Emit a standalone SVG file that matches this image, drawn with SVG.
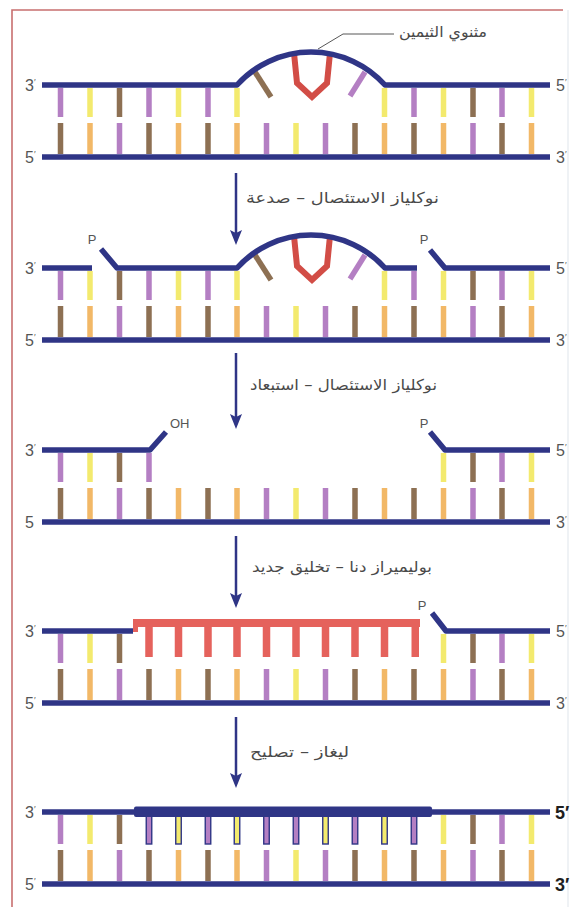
<svg xmlns="http://www.w3.org/2000/svg" width="576" height="907" viewBox="0 0 576 907">
  <defs>
    <style>
      .strand{fill:none;stroke:#2f3586;stroke-width:5.5;stroke-linejoin:round;stroke-linecap:butt}
      .pu{fill:#b47fc3}
      .ye{fill:#f3ea6e}
      .br{fill:#8d7053}
      .or{fill:#f2b867}
      .new{stroke:#2f3586;stroke-width:1.4}
      .tilt{stroke-width:5.5;stroke-linecap:butt}
      .dimer{fill:none;stroke:#d24d46;stroke-width:6;stroke-linejoin:miter}
      .end{font-family:"Liberation Sans",Arial,sans-serif;font-size:16px;fill:#555}
      .endb{font-family:"Liberation Sans",Arial,sans-serif;font-size:18px;font-weight:bold;fill:#1e1e1e}
      .tag{font-family:"Liberation Sans",Arial,sans-serif;font-size:13px;fill:#555}
      .ar{font-family:"DejaVu Sans","Noto Sans",sans-serif;font-size:15px;fill:#4a4a4a}
      .arrow{fill:none;stroke:#2f3586;stroke-width:2.5}
      .red{fill:#e5625c}
    </style>
    <marker id="head" markerUnits="userSpaceOnUse" markerWidth="16" markerHeight="13" refX="7" refY="6" orient="auto">
      <path d="M0,0 L15,6 L0,12 L3,6 Z" fill="#2f3586"/>
    </marker>
  </defs>

  <rect width="576" height="907" fill="#ffffff"/>
  <!-- page frame -->
  <path d="M12,907 V10 H563" fill="none" stroke="#c86f6f" stroke-width="1.6"/>
  <line x1="568" y1="10" x2="568" y2="907" stroke="#e4e9ee" stroke-width="1.2"/>

  <!-- state 1: thymine dimer in the upper strand -->
  <g id="state1">
    <g>
      <rect class="pu" x="57.75" y="88" width="5.5" height="29"/>
      <rect class="ye" x="87.25" y="88" width="5.5" height="29"/>
      <rect class="br" x="116.75" y="88" width="5.5" height="29"/>
      <rect class="pu" x="146.25" y="88" width="5.5" height="29"/>
      <rect class="ye" x="175.75" y="88" width="5.5" height="29"/>
      <rect class="pu" x="205.25" y="88" width="5.5" height="29"/>
      <rect class="ye" x="234.25" y="88" width="5.5" height="29"/>
      <rect class="ye" x="381.75" y="88" width="5.5" height="29"/>
      <rect class="pu" x="411.25" y="88" width="5.5" height="29"/>
      <rect class="ye" x="440.75" y="88" width="5.5" height="29"/>
      <rect class="br" x="470.25" y="88" width="5.5" height="29"/>
      <rect class="pu" x="499.25" y="88" width="5.5" height="29"/>
      <rect class="ye" x="528.75" y="88" width="5.5" height="29"/>
      <line class="tilt" x1="255" y1="72" x2="271" y2="97" stroke="#8d7053"/>
      <line class="tilt" x1="365" y1="72" x2="350" y2="96" stroke="#b47fc3"/>
    </g>
    <g>
      <rect class="br" x="57.75" y="123" width="5.5" height="31"/>
      <rect class="or" x="87.25" y="123" width="5.5" height="31"/>
      <rect class="pu" x="116.75" y="123" width="5.5" height="31"/>
      <rect class="br" x="146.25" y="123" width="5.5" height="31"/>
      <rect class="or" x="175.75" y="123" width="5.5" height="31"/>
      <rect class="br" x="205.25" y="123" width="5.5" height="31"/>
      <rect class="or" x="234.25" y="123" width="5.5" height="31"/>
      <rect class="pu" x="263.75" y="123" width="5.5" height="31"/>
      <rect class="ye" x="293.25" y="123" width="5.5" height="31"/>
      <rect class="pu" x="322.75" y="123" width="5.5" height="31"/>
      <rect class="br" x="352.25" y="123" width="5.5" height="31"/>
      <rect class="or" x="381.75" y="123" width="5.5" height="31"/>
      <rect class="br" x="411.25" y="123" width="5.5" height="31"/>
      <rect class="or" x="440.75" y="123" width="5.5" height="31"/>
      <rect class="pu" x="470.25" y="123" width="5.5" height="31"/>
      <rect class="br" x="499.25" y="123" width="5.5" height="31"/>
      <rect class="or" x="528.75" y="123" width="5.5" height="31"/>
    </g>
    <polyline class="dimer" points="294,53 297,83 312,97 327,83 330,53"/>
    <path class="strand" d="M42,85 H237 A99.5,99.5 0 0 1 385,85 H550"/>
    <path class="strand" d="M42,157 H550"/>
    <text class="end" x="25" y="91">3<tspan font-size="9" dy="-6">′</tspan></text>
    <text class="end" x="25" y="163">5<tspan font-size="9" dy="-6">′</tspan></text>
    <text class="end" x="556" y="91">5<tspan font-size="9" dy="-6">′</tspan></text>
    <text class="end" x="556" y="163">3<tspan font-size="9" dy="-6">′</tspan></text>
    <polyline points="318,49 343,34 394,34" fill="none" stroke="#444" stroke-width="0.9"/>
    <text class="ar" x="399" y="37" textLength="88" lengthAdjust="spacingAndGlyphs">مثنوي الثيمين</text>
  </g>

  <!-- state 2: nicks on both sides of the lesion -->
  <g id="state2">
    <g>
      <rect class="pu" x="57.75" y="271" width="5.5" height="29"/>
      <rect class="ye" x="87.25" y="271" width="5.5" height="29"/>
      <rect class="br" x="116.75" y="271" width="5.5" height="29"/>
      <rect class="pu" x="146.25" y="271" width="5.5" height="29"/>
      <rect class="ye" x="175.75" y="271" width="5.5" height="29"/>
      <rect class="pu" x="205.25" y="271" width="5.5" height="29"/>
      <rect class="ye" x="234.25" y="271" width="5.5" height="29"/>
      <rect class="ye" x="381.75" y="271" width="5.5" height="29"/>
      <rect class="pu" x="411.25" y="271" width="5.5" height="29"/>
      <rect class="ye" x="440.75" y="271" width="5.5" height="29"/>
      <rect class="br" x="470.25" y="271" width="5.5" height="29"/>
      <rect class="pu" x="499.25" y="271" width="5.5" height="29"/>
      <rect class="ye" x="528.75" y="271" width="5.5" height="29"/>
      <line class="tilt" x1="255" y1="255" x2="271" y2="280" stroke="#8d7053"/>
      <line class="tilt" x1="365" y1="255" x2="350" y2="279" stroke="#b47fc3"/>
    </g>
    <g>
      <rect class="br" x="57.75" y="306" width="5.5" height="31"/>
      <rect class="or" x="87.25" y="306" width="5.5" height="31"/>
      <rect class="pu" x="116.75" y="306" width="5.5" height="31"/>
      <rect class="br" x="146.25" y="306" width="5.5" height="31"/>
      <rect class="or" x="175.75" y="306" width="5.5" height="31"/>
      <rect class="br" x="205.25" y="306" width="5.5" height="31"/>
      <rect class="or" x="234.25" y="306" width="5.5" height="31"/>
      <rect class="pu" x="263.75" y="306" width="5.5" height="31"/>
      <rect class="ye" x="293.25" y="306" width="5.5" height="31"/>
      <rect class="pu" x="322.75" y="306" width="5.5" height="31"/>
      <rect class="br" x="352.25" y="306" width="5.5" height="31"/>
      <rect class="or" x="381.75" y="306" width="5.5" height="31"/>
      <rect class="br" x="411.25" y="306" width="5.5" height="31"/>
      <rect class="or" x="440.75" y="306" width="5.5" height="31"/>
      <rect class="pu" x="470.25" y="306" width="5.5" height="31"/>
      <rect class="br" x="499.25" y="306" width="5.5" height="31"/>
      <rect class="or" x="528.75" y="306" width="5.5" height="31"/>
    </g>
    <polyline class="dimer" points="294,236 297,266 312,280 327,266 330,236"/>
    <path class="strand" d="M42,268 H92"/>
    <path class="strand" d="M101,249 L117,268 H237 A99.5,99.5 0 0 1 385,268 H417"/>
    <path class="strand" d="M430,250 L445,268 H550"/>
    <path class="strand" d="M42,340 H550"/>
    <text class="tag" x="92" y="244" text-anchor="middle">P</text>
    <text class="tag" x="424" y="244" text-anchor="middle">P</text>
    <text class="end" x="25" y="274">3<tspan font-size="9" dy="-6">′</tspan></text>
    <text class="end" x="25" y="346">5<tspan font-size="9" dy="-6">′</tspan></text>
    <text class="end" x="556" y="274">5<tspan font-size="9" dy="-6">′</tspan></text>
    <text class="end" x="556" y="346">3<tspan font-size="9" dy="-6">′</tspan></text>
  </g>

  <!-- state 3: damaged fragment removed, gap left -->
  <g id="state3">
    <g>
      <rect class="pu" x="57.75" y="453" width="5.5" height="29"/>
      <rect class="ye" x="87.25" y="453" width="5.5" height="29"/>
      <rect class="br" x="116.75" y="453" width="5.5" height="29"/>
      <rect class="pu" x="146.25" y="453" width="5.5" height="29"/>
      <rect class="ye" x="440.75" y="453" width="5.5" height="29"/>
      <rect class="br" x="470.25" y="453" width="5.5" height="29"/>
      <rect class="pu" x="499.25" y="453" width="5.5" height="29"/>
      <rect class="ye" x="528.75" y="453" width="5.5" height="29"/>
    </g>
    <g>
      <rect class="br" x="57.75" y="488" width="5.5" height="31"/>
      <rect class="or" x="87.25" y="488" width="5.5" height="31"/>
      <rect class="pu" x="116.75" y="488" width="5.5" height="31"/>
      <rect class="br" x="146.25" y="488" width="5.5" height="31"/>
      <rect class="or" x="175.75" y="488" width="5.5" height="31"/>
      <rect class="br" x="205.25" y="488" width="5.5" height="31"/>
      <rect class="or" x="234.25" y="488" width="5.5" height="31"/>
      <rect class="pu" x="263.75" y="488" width="5.5" height="31"/>
      <rect class="ye" x="293.25" y="488" width="5.5" height="31"/>
      <rect class="pu" x="322.75" y="488" width="5.5" height="31"/>
      <rect class="br" x="352.25" y="488" width="5.5" height="31"/>
      <rect class="or" x="381.75" y="488" width="5.5" height="31"/>
      <rect class="br" x="411.25" y="488" width="5.5" height="31"/>
      <rect class="or" x="440.75" y="488" width="5.5" height="31"/>
      <rect class="pu" x="470.25" y="488" width="5.5" height="31"/>
      <rect class="br" x="499.25" y="488" width="5.5" height="31"/>
      <rect class="or" x="528.75" y="488" width="5.5" height="31"/>
    </g>
    <path class="strand" d="M42,450 H150 L166,432"/>
    <path class="strand" d="M430,432 L445,450 H550"/>
    <path class="strand" d="M42,522 H550"/>
    <text class="tag" x="170" y="428">OH</text>
    <text class="tag" x="424" y="428" text-anchor="middle">P</text>
    <text class="end" x="25" y="456">3<tspan font-size="9" dy="-6">′</tspan></text>
    <text class="end" x="25" y="528">5</text>
    <text class="end" x="556" y="456">5<tspan font-size="9" dy="-6">′</tspan></text>
    <text class="end" x="556" y="528">3<tspan font-size="9" dy="-6">′</tspan></text>
  </g>

  <!-- state 4: new stretch synthesised by the polymerase -->
  <g id="state4">
    <g>
      <rect class="pu" x="57.75" y="634" width="5.5" height="29"/>
      <rect class="ye" x="87.25" y="634" width="5.5" height="29"/>
      <rect class="br" x="116.75" y="634" width="5.5" height="29"/>
      <rect class="ye" x="440.75" y="634" width="5.5" height="29"/>
      <rect class="br" x="470.25" y="634" width="5.5" height="29"/>
      <rect class="pu" x="499.25" y="634" width="5.5" height="29"/>
      <rect class="ye" x="528.75" y="634" width="5.5" height="29"/>
    </g>
    <g>
      <rect class="br" x="57.75" y="669" width="5.5" height="31"/>
      <rect class="or" x="87.25" y="669" width="5.5" height="31"/>
      <rect class="pu" x="116.75" y="669" width="5.5" height="31"/>
      <rect class="br" x="146.25" y="669" width="5.5" height="31"/>
      <rect class="or" x="175.75" y="669" width="5.5" height="31"/>
      <rect class="br" x="205.25" y="669" width="5.5" height="31"/>
      <rect class="or" x="234.25" y="669" width="5.5" height="31"/>
      <rect class="pu" x="263.75" y="669" width="5.5" height="31"/>
      <rect class="ye" x="293.25" y="669" width="5.5" height="31"/>
      <rect class="pu" x="322.75" y="669" width="5.5" height="31"/>
      <rect class="br" x="352.25" y="669" width="5.5" height="31"/>
      <rect class="or" x="381.75" y="669" width="5.5" height="31"/>
      <rect class="br" x="411.25" y="669" width="5.5" height="31"/>
      <rect class="or" x="440.75" y="669" width="5.5" height="31"/>
      <rect class="pu" x="470.25" y="669" width="5.5" height="31"/>
      <rect class="br" x="499.25" y="669" width="5.5" height="31"/>
      <rect class="or" x="528.75" y="669" width="5.5" height="31"/>
    </g>
    <g>
      <rect class="red" x="133" y="619" width="287" height="8"/>
      <rect class="red" x="133" y="619" width="5" height="13"/>
      <rect class="red" x="145.25" y="626" width="7.5" height="31"/>
      <rect class="red" x="174.75" y="626" width="7.5" height="31"/>
      <rect class="red" x="204.25" y="626" width="7.5" height="31"/>
      <rect class="red" x="233.25" y="626" width="7.5" height="31"/>
      <rect class="red" x="262.75" y="626" width="7.5" height="31"/>
      <rect class="red" x="292.25" y="626" width="7.5" height="31"/>
      <rect class="red" x="321.75" y="626" width="7.5" height="31"/>
      <rect class="red" x="351.25" y="626" width="7.5" height="31"/>
      <rect class="red" x="380.75" y="626" width="7.5" height="31"/>
      <rect class="red" x="411.5" y="626" width="7.5" height="31"/>
    </g>
    <path class="strand" d="M42,631 H133"/>
    <path class="strand" d="M432,613 L446,631 H550"/>
    <path class="strand" d="M42,703 H550"/>
    <text class="tag" x="422" y="610" text-anchor="middle">P</text>
    <text class="end" x="25" y="637">3<tspan font-size="9" dy="-6">′</tspan></text>
    <text class="end" x="25" y="709">5<tspan font-size="9" dy="-6">′</tspan></text>
    <text class="end" x="556" y="637">5<tspan font-size="9" dy="-6">′</tspan></text>
    <text class="end" x="556" y="709">3<tspan font-size="9" dy="-6">′</tspan></text>
  </g>

  <!-- state 5: nick sealed by ligase, duplex restored -->
  <g id="state5">
    <g>
      <rect class="pu" x="57.75" y="815" width="5.5" height="29"/>
      <rect class="ye" x="87.25" y="815" width="5.5" height="29"/>
      <rect class="br" x="116.75" y="815" width="5.5" height="29"/>
      <rect class="pu new" x="146.25" y="816" width="5.5" height="28"/>
      <rect class="ye new" x="175.75" y="816" width="5.5" height="28"/>
      <rect class="pu new" x="205.25" y="816" width="5.5" height="28"/>
      <rect class="ye new" x="234.25" y="816" width="5.5" height="28"/>
      <rect class="pu new" x="263.75" y="816" width="5.5" height="28"/>
      <rect class="pu new" x="293.25" y="816" width="5.5" height="28"/>
      <rect class="ye new" x="322.75" y="816" width="5.5" height="28"/>
      <rect class="pu new" x="352.25" y="816" width="5.5" height="28"/>
      <rect class="ye new" x="381.75" y="816" width="5.5" height="28"/>
      <rect class="pu new" x="411.25" y="816" width="5.5" height="28"/>
      <rect class="ye" x="440.75" y="815" width="5.5" height="29"/>
      <rect class="br" x="470.25" y="815" width="5.5" height="29"/>
      <rect class="pu" x="499.25" y="815" width="5.5" height="29"/>
      <rect class="ye" x="528.75" y="815" width="5.5" height="29"/>
    </g>
    <g>
      <rect class="br" x="57.75" y="850" width="5.5" height="31"/>
      <rect class="or" x="87.25" y="850" width="5.5" height="31"/>
      <rect class="pu" x="116.75" y="850" width="5.5" height="31"/>
      <rect class="br" x="146.25" y="850" width="5.5" height="31"/>
      <rect class="or" x="175.75" y="850" width="5.5" height="31"/>
      <rect class="br" x="205.25" y="850" width="5.5" height="31"/>
      <rect class="or" x="234.25" y="850" width="5.5" height="31"/>
      <rect class="pu" x="263.75" y="850" width="5.5" height="31"/>
      <rect class="ye" x="293.25" y="850" width="5.5" height="31"/>
      <rect class="pu" x="322.75" y="850" width="5.5" height="31"/>
      <rect class="br" x="352.25" y="850" width="5.5" height="31"/>
      <rect class="or" x="381.75" y="850" width="5.5" height="31"/>
      <rect class="br" x="411.25" y="850" width="5.5" height="31"/>
      <rect class="or" x="440.75" y="850" width="5.5" height="31"/>
      <rect class="pu" x="470.25" y="850" width="5.5" height="31"/>
      <rect class="br" x="499.25" y="850" width="5.5" height="31"/>
      <rect class="or" x="528.75" y="850" width="5.5" height="31"/>
    </g>
    <path class="strand" d="M42,812 H550"/>
    <rect x="134" y="806.5" width="298" height="10.5" rx="2" fill="#2f3586"/>
    <path class="strand" d="M42,884 H550"/>
    <text class="end" x="25" y="818">3<tspan font-size="9" dy="-6">′</tspan></text>
    <text class="end" x="25" y="890">5<tspan font-size="9" dy="-6">′</tspan></text>
    <text class="endb" x="555" y="819">5′</text>
    <text class="endb" x="555" y="891">3′</text>
  </g>

  <!-- reaction steps -->
  <g id="connectors">
    <path class="arrow" d="M236,173 V237" marker-end="url(#head)"/>
    <path class="arrow" d="M236,353 V421" marker-end="url(#head)"/>
    <path class="arrow" d="M236,536 V600" marker-end="url(#head)"/>
    <path class="arrow" d="M236,717 V780" marker-end="url(#head)"/>
    <text class="ar" x="246" y="203" textLength="193" lengthAdjust="spacingAndGlyphs">نوكلياز الاستئصال – صدعة</text>
    <text class="ar" x="250" y="390" textLength="187" lengthAdjust="spacingAndGlyphs">نوكلياز الاستئصال – استبعاد</text>
    <text class="ar" x="252" y="572" textLength="180" lengthAdjust="spacingAndGlyphs">بوليميراز دنا – تخليق جديد</text>
    <text class="ar" x="250" y="757" textLength="99" lengthAdjust="spacingAndGlyphs">ليغاز – تصليح</text>
  </g>
</svg>
